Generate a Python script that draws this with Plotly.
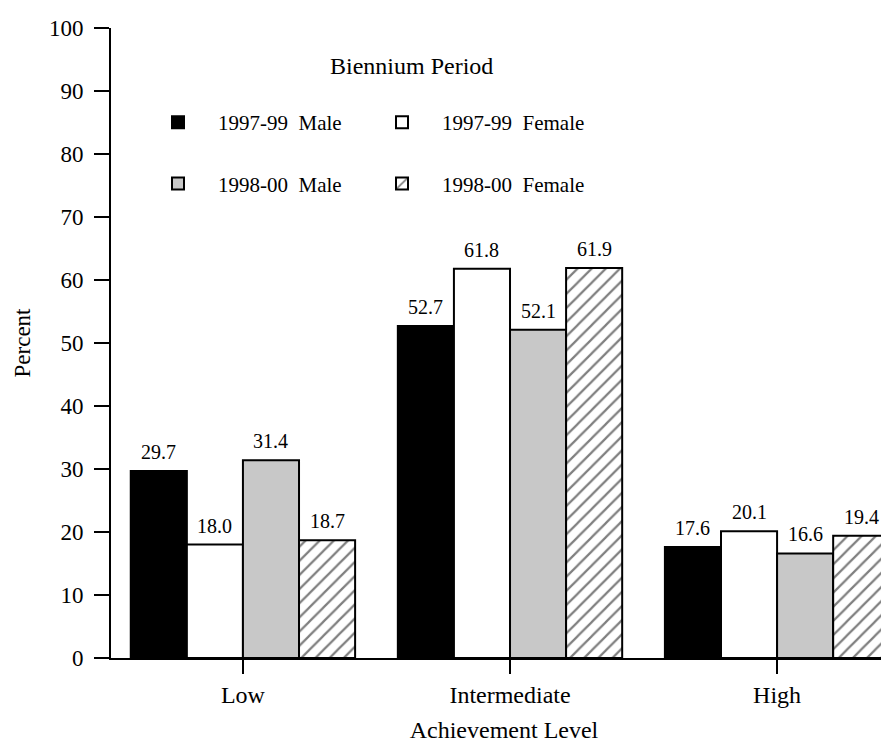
import plotly.graph_objects as go

categories = ["Low", "Intermediate", "High"]
male_9799 = [29.7, 52.7, 17.6]
female_9799 = [18.0, 61.8, 20.1]
male_9800 = [31.4, 52.1, 16.6]
female_9800 = [18.7, 61.9, 19.4]
y_ticks = [0, 10, 20, 30, 40, 50, 60, 70, 80, 90, 100]

FONT = "Liberation Serif, Times New Roman, serif"
BARGAP = 0.16

fig = go.Figure()
series = []

def add(name, vals, fill, legend, group, pattern=None):
    marker = dict(color=fill, line=dict(color="black", width=2))
    if pattern:
        marker["pattern"] = pattern
    fig.add_trace(go.Bar(
        x=categories, y=vals, name=name, marker=marker,
        legend=legend, legendgroup=group, hoverinfo="x+y+name",
    ))
    series.append(vals)

add("1997-99  Male", male_9799, "black", "legend", "a")
add("1997-99  Female", female_9799, "white", "legend2", "b")
add("1998-00  Male", male_9800, "#c8c8c8", "legend", "c")
add("1998-00  Female", female_9800, "white", "legend2", "d",
    pattern=dict(shape="/", fgcolor="black", bgcolor="white", size=10, solidity=0.22))

ML, MR, MT, MB = 103, 0, 20, 92
W, H = 889, 742
pw = W - ML - MR
ph = H - MT - MB

def px(x):
    return (x - ML) / pw

def py(y):
    return (H - MB - y) / ph

# value labels placed above each bar (positions follow the grouped-bar layout)
n = len(series)
bw = (1 - BARGAP) / n
annotations = []
for i, vals in enumerate(series):
    off = (i - (n - 1) / 2) * bw
    for j, v in enumerate(vals):
        annotations.append(dict(
            x=j + off, y=v, xref="x", yref="y", text=f"{v:.1f}",
            showarrow=False, xanchor="center", yanchor="bottom", yshift=6,
            font=dict(family=FONT, size=20, color="black"),
        ))

annotations.append(dict(
    text="Biennium Period", xref="paper", yref="paper",
    x=px(403.5), y=py(58), xanchor="center", yanchor="middle",
    showarrow=False, font=dict(family=FONT, size=24, color="black"),
))

legend_common = dict(
    font=dict(family=FONT, size=21, color="black"),
    bgcolor="rgba(0,0,0,0)", borderwidth=0,
    xanchor="left", yanchor="top", tracegroupgap=31,
    traceorder="grouped", itemwidth=70,
)

fig.update_layout(
    width=W, height=H,
    margin=dict(l=ML, r=MR, t=MT, b=MB),
    paper_bgcolor="white", plot_bgcolor="white",
    font=dict(family=FONT, size=23, color="black"),
    barmode="group", bargap=BARGAP, bargroupgap=0,
    showlegend=True,
    legend=dict(x=px(130), y=py(94), **legend_common),
    legend2=dict(x=px(354), y=py(94), **legend_common),
    annotations=annotations,
    xaxis=dict(
        range=[-0.494, 2.449], showline=True, linecolor="black", linewidth=2,
        ticks="outside", ticklen=14, tickwidth=2, tickcolor="black",
        showgrid=False, zeroline=False,
        tickfont=dict(family=FONT, size=24, color="black"),
        title=dict(text="Achievement Level", font=dict(family=FONT, size=24, color="black"), standoff=14),
    ),
    yaxis=dict(
        range=[0, 100], tickvals=y_ticks, showline=True, linecolor="black", linewidth=2,
        ticks="outside", ticklen=15, tickwidth=2, tickcolor="black",
        showgrid=False, zeroline=False, ticklabelstandoff=6,
        tickfont=dict(family=FONT, size=23, color="black"),
        title=dict(text="Percent", font=dict(family=FONT, size=23, color="black"), standoff=12),
    ),
)

fig.write_html("out.html")
